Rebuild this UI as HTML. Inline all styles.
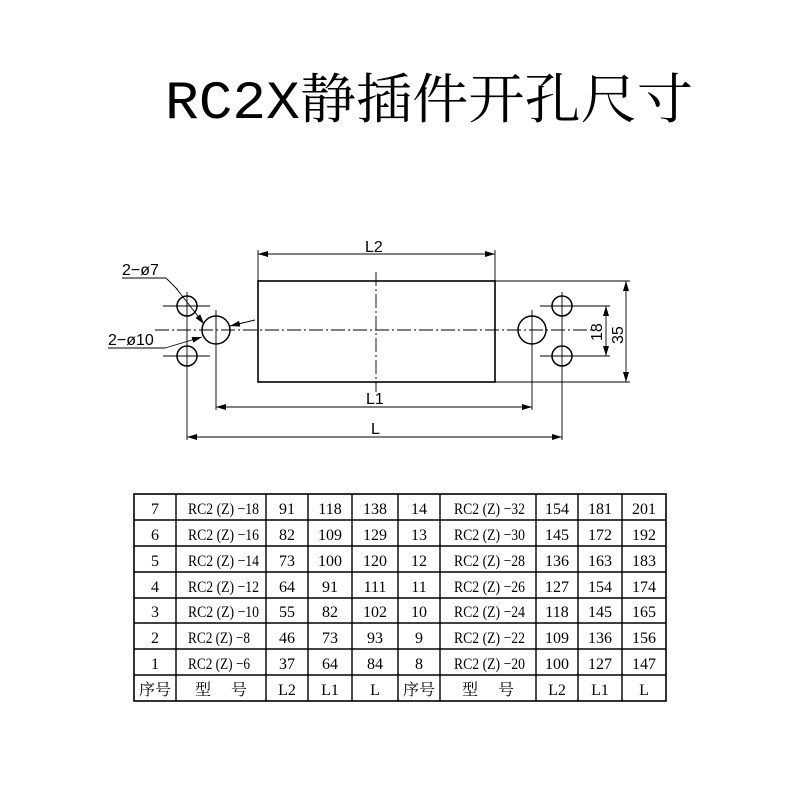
<!DOCTYPE html>
<html><head><meta charset="utf-8"><style>
body{margin:0;background:#fff;width:794px;height:795px;overflow:hidden}
svg{display:block}
</style></head><body>
<svg width="794" height="795" xmlns="http://www.w3.org/2000/svg" font-family="Liberation Sans, Noto Sans CJK SC, sans-serif">
<defs>
<marker id="a" markerWidth="10" markerHeight="6" refX="10" refY="3" orient="auto-start-reverse" markerUnits="userSpaceOnUse"><path d="M0,0 L10,3 L0,6 Z" fill="#000"/></marker>
</defs>
<text x="165" y="118" font-size="54" font-family="Liberation Mono, Noto Serif CJK SC, serif" textLength="528" lengthAdjust="spacingAndGlyphs">RC2X静插件开孔尺寸</text>
<g stroke="#000" fill="none" stroke-width="1.2">
<rect x="258" y="281" width="237" height="101" stroke-width="1.6"/>
<line x1="155" y1="330" x2="592" y2="330" stroke-dasharray="14,3,2,3" stroke-width="0.9"/>
<line x1="376" y1="272" x2="376" y2="392" stroke-dasharray="14,3,2,3" stroke-width="0.9"/>
<circle cx="216" cy="330" r="14" stroke-width="1.5"/>
<circle cx="532" cy="330" r="14" stroke-width="1.5"/>
<circle cx="187" cy="306" r="10" stroke-width="1.5"/>
<circle cx="187" cy="356" r="10" stroke-width="1.5"/>
<circle cx="562" cy="306" r="10" stroke-width="1.5"/>
<circle cx="562" cy="356" r="10" stroke-width="1.5"/>
<g stroke-width="0.9">
<line x1="163" y1="306" x2="210" y2="306"/><line x1="163" y1="356" x2="210" y2="356"/>
<line x1="187" y1="292" x2="187" y2="440"/>
<line x1="216" y1="310" x2="216" y2="410"/>
<line x1="532" y1="310" x2="532" y2="410"/>
<line x1="540" y1="306" x2="610" y2="306"/><line x1="540" y1="356" x2="610" y2="356"/>
<line x1="562" y1="292" x2="562" y2="440"/>
<line x1="258" y1="250" x2="258" y2="281"/><line x1="495" y1="250" x2="495" y2="281"/>
<line x1="495" y1="281" x2="630" y2="281"/><line x1="495" y1="382" x2="630" y2="382"/>
<line x1="258" y1="254" x2="495" y2="254" marker-start="url(#a)" marker-end="url(#a)"/>
<line x1="216" y1="407" x2="532" y2="407" marker-start="url(#a)" marker-end="url(#a)"/>
<line x1="187" y1="437" x2="562" y2="437" marker-start="url(#a)" marker-end="url(#a)"/>
<line x1="606" y1="306" x2="606" y2="356" marker-start="url(#a)" marker-end="url(#a)"/>
<line x1="626" y1="281" x2="626" y2="382" marker-start="url(#a)" marker-end="url(#a)"/>
<line x1="122" y1="278" x2="166" y2="278"/>
<polyline points="166,278 178,290"/>
<line x1="176" y1="288" x2="204" y2="324" marker-end="url(#a)"/>
<line x1="108" y1="348" x2="165" y2="348"/>
<line x1="165" y1="348" x2="202" y2="337" marker-end="url(#a)"/>
<line x1="255" y1="320" x2="230" y2="326" marker-end="url(#a)"/>
</g>
</g>
<g font-size="16" fill="#000">
<text x="365" y="252">L2</text>
<text x="366" y="404">L1</text>
<text x="371" y="434">L</text>
<text x="122" y="275">2−ø7</text>
<text x="108" y="345">2−ø10</text>
<text transform="translate(602,341) rotate(-90)">18</text>
<text transform="translate(623,344) rotate(-90)">35</text>
</g>
<g stroke="#000" stroke-width="1.4">
<rect x="134" y="494" width="532" height="207" fill="none" stroke-width="1.6"/>
<line x1="134" y1="520" x2="666" y2="520"/><line x1="134" y1="546" x2="666" y2="546"/>
<line x1="134" y1="572" x2="666" y2="572"/><line x1="134" y1="598" x2="666" y2="598"/>
<line x1="134" y1="623" x2="666" y2="623"/><line x1="134" y1="649" x2="666" y2="649"/>
<line x1="134" y1="675" x2="666" y2="675"/>
<line x1="176" y1="494" x2="176" y2="701"/><line x1="266" y1="494" x2="266" y2="701"/>
<line x1="308" y1="494" x2="308" y2="701"/><line x1="352" y1="494" x2="352" y2="701"/>
<line x1="398" y1="494" x2="398" y2="701"/><line x1="440" y1="494" x2="440" y2="701"/>
<line x1="536" y1="494" x2="536" y2="701"/><line x1="578" y1="494" x2="578" y2="701"/>
<line x1="622" y1="494" x2="622" y2="701"/>
</g>
<g font-size="16" font-family="Liberation Serif, Noto Serif CJK SC, serif" text-anchor="middle" fill="#000">
<g transform="translate(0,514)"><text x="155">7</text><text x="188" text-anchor="start" textLength="71" lengthAdjust="spacingAndGlyphs">RC2 (Z) −18</text><text x="287">91</text><text x="330">118</text><text x="375">138</text><text x="419">14</text><text x="454" text-anchor="start" textLength="71" lengthAdjust="spacingAndGlyphs">RC2 (Z) −32</text><text x="557">154</text><text x="600">181</text><text x="644">201</text></g>
<g transform="translate(0,540)"><text x="155">6</text><text x="188" text-anchor="start" textLength="71" lengthAdjust="spacingAndGlyphs">RC2 (Z) −16</text><text x="287">82</text><text x="330">109</text><text x="375">129</text><text x="419">13</text><text x="454" text-anchor="start" textLength="71" lengthAdjust="spacingAndGlyphs">RC2 (Z) −30</text><text x="557">145</text><text x="600">172</text><text x="644">192</text></g>
<g transform="translate(0,566)"><text x="155">5</text><text x="188" text-anchor="start" textLength="71" lengthAdjust="spacingAndGlyphs">RC2 (Z) −14</text><text x="287">73</text><text x="330">100</text><text x="375">120</text><text x="419">12</text><text x="454" text-anchor="start" textLength="71" lengthAdjust="spacingAndGlyphs">RC2 (Z) −28</text><text x="557">136</text><text x="600">163</text><text x="644">183</text></g>
<g transform="translate(0,592)"><text x="155">4</text><text x="188" text-anchor="start" textLength="71" lengthAdjust="spacingAndGlyphs">RC2 (Z) −12</text><text x="287">64</text><text x="330">91</text><text x="375">111</text><text x="419">11</text><text x="454" text-anchor="start" textLength="71" lengthAdjust="spacingAndGlyphs">RC2 (Z) −26</text><text x="557">127</text><text x="600">154</text><text x="644">174</text></g>
<g transform="translate(0,617)"><text x="155">3</text><text x="188" text-anchor="start" textLength="71" lengthAdjust="spacingAndGlyphs">RC2 (Z) −10</text><text x="287">55</text><text x="330">82</text><text x="375">102</text><text x="419">10</text><text x="454" text-anchor="start" textLength="71" lengthAdjust="spacingAndGlyphs">RC2 (Z) −24</text><text x="557">118</text><text x="600">145</text><text x="644">165</text></g>
<g transform="translate(0,643)"><text x="155">2</text><text x="188" text-anchor="start" textLength="62" lengthAdjust="spacingAndGlyphs">RC2 (Z) −8</text><text x="287">46</text><text x="330">73</text><text x="375">93</text><text x="419">9</text><text x="454" text-anchor="start" textLength="71" lengthAdjust="spacingAndGlyphs">RC2 (Z) −22</text><text x="557">109</text><text x="600">136</text><text x="644">156</text></g>
<g transform="translate(0,669)"><text x="155">1</text><text x="188" text-anchor="start" textLength="62" lengthAdjust="spacingAndGlyphs">RC2 (Z) −6</text><text x="287">37</text><text x="330">64</text><text x="375">84</text><text x="419">8</text><text x="454" text-anchor="start" textLength="71" lengthAdjust="spacingAndGlyphs">RC2 (Z) −20</text><text x="557">100</text><text x="600">127</text><text x="644">147</text></g>
<g transform="translate(0,695)"><text x="155">序号</text><text x="221">型　 号</text><text x="287">L2</text><text x="330">L1</text><text x="375">L</text><text x="419">序号</text><text x="488">型　 号</text><text x="557">L2</text><text x="600">L1</text><text x="644">L</text></g>
</g>
</svg>
</body></html>
